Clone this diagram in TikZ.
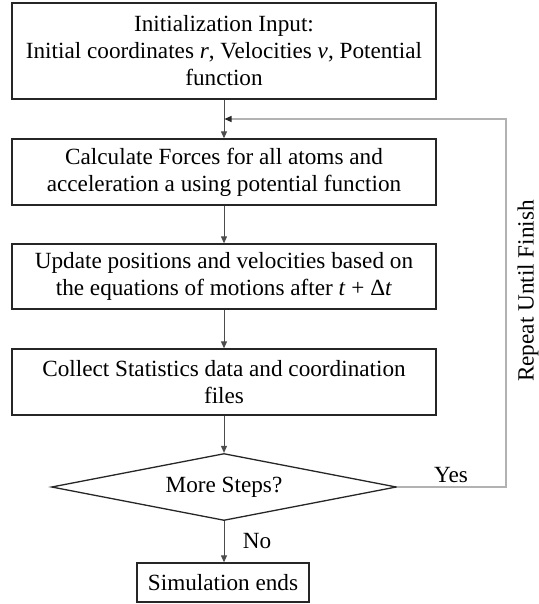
\documentclass[tikz,border=0pt]{standalone}
\usepackage{fontspec}
\setmainfont{Liberation Serif}
\usetikzlibrary{shapes.geometric,arrows.meta}
\begin{document}
\begin{tikzpicture}[x=1pt,y=-1pt,
  txt/.style={font=\fontsize{23.2}{27}\selectfont, text=black},
  box/.style={txt, draw=black!85, line width=1.3pt, minimum width=424pt, inner sep=0pt, align=center},
  decision/.style={txt, diamond, shape aspect=5.15, draw=black!85, line width=1.3pt, minimum width=345pt, minimum height=67pt, inner sep=0pt},
  arr/.style={draw=black!70, line width=1pt, -{Triangle[length=7pt,width=6pt]}},
  fb/.style={draw=black!30, line width=1.3pt, -{Triangle[length=7pt,width=6pt,color=black!85]}}
]
\path[use as bounding box] (0,0) rectangle (538,604);

\node[box, minimum height=96pt] (init) at (224,51)
  {Initialization Input:\\ Initial coordinates \textit{r}, Velocities \textit{v}, Potential\\ function};
\node[box, minimum height=66pt] (force) at (224,172)
  {Calculate Forces for all atoms and\\ acceleration a using potential function};
\node[box, minimum height=65pt] (update) at (224,276.5)
  {Update positions and velocities based on\\ the equations of motions after \textit{t} + Δ\textit{t}};
\node[box, minimum height=66pt] (collect) at (224,382)
  {Collect Statistics data and coordination\\ files};
\node[decision] (more) at (224,487) {More Steps?};
\node[box, minimum width=172pt, minimum height=39pt] (end) at (223,582.5) {Simulation ends};

\coordinate (fbR) at (506,487);
\coordinate (fbT) at (506,119);
\coordinate (join) at (224.5,119);

\draw[arr] (init.south) -- (force.north);
\draw[arr] (force.south) -- (update.north);
\draw[arr] (update.south) -- (collect.north);
\draw[arr] (collect.south) -- (more.north);
\draw[arr] (more.south) -- (end.north -| more.south);
\draw[fb] (more.east) -- (fbR) -- (fbT) -- (join);

\node[txt] (yes) at (451,475) {Yes};
\node[txt] (no) at (257,541) {No};
\node[txt, rotate=90, inner sep=0pt] (rep) at (528,291) {Repeat Until Finish};
\end{tikzpicture}
\end{document}
